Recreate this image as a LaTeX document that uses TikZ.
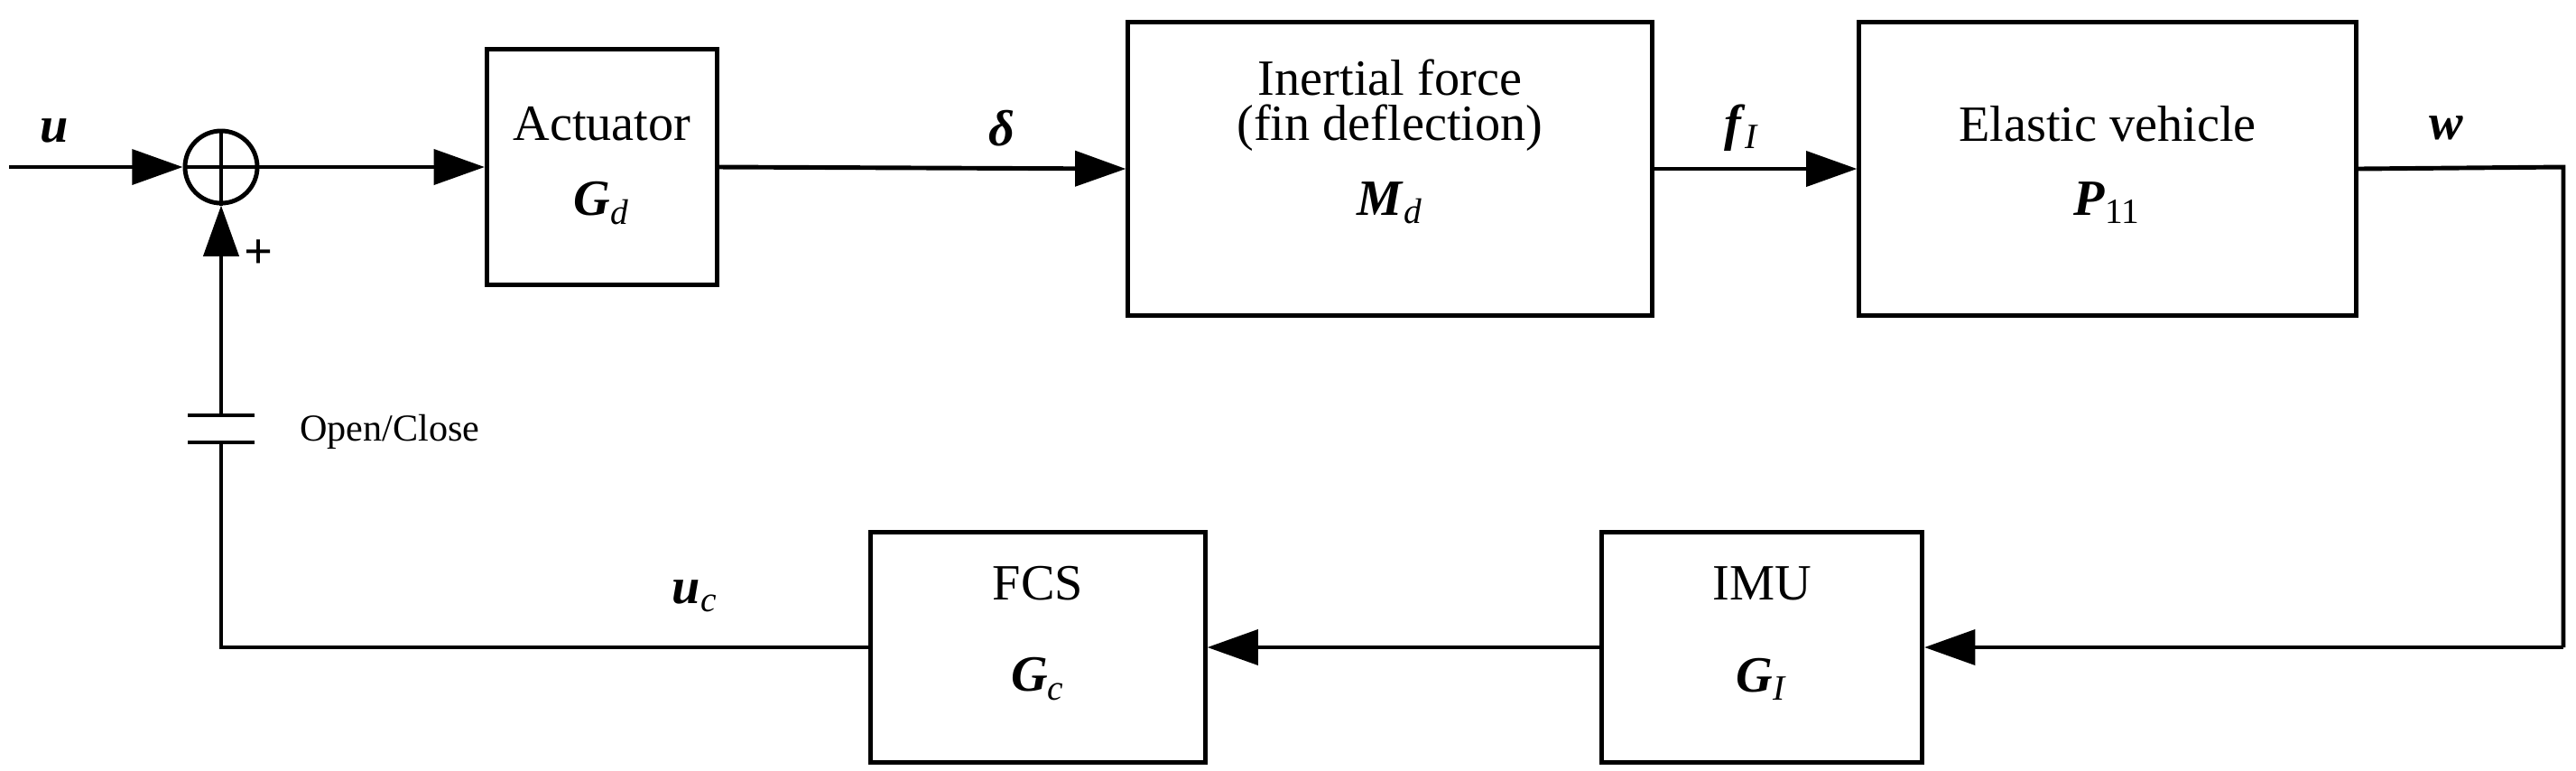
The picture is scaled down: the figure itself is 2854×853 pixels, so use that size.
\documentclass[tikz,border=0pt]{standalone}
\usepackage{fontspec}
\setmainfont{Liberation Serif}
\usetikzlibrary{arrows.meta}
\newcommand{\bi}[1]{\textbf{\textit{#1}}}
\newcommand{\sbs}[1]{\textsubscript{\textit{#1}}}
\begin{document}
\begin{tikzpicture}[x=0.01cm,y=-0.01cm,
  blk/.style={draw,line width=1.4pt,inner sep=0pt},
  ln/.style={line width=1.4pt},
  arr/.style={ln,-{Triangle[length=16pt,width=11pt]}},
  txt/.style={font=\fontsize{16}{19}\selectfont,align=center}]
\useasboundingbox (0,0) rectangle (2854,853);
% blocks
\node[blk,minimum width=2.55cm,minimum height=2.6cm] (act) at (667,185) {};
\node[txt] at (667,137) {Actuator};
\node[txt] at (667,225) {\bi{G}\sbs{d}};
\node[blk,minimum width=5.8cm,minimum height=3.25cm] (inf) at (1540,187) {};
\node[txt] at (1540,86) {Inertial force};
\node[txt] at (1540,142) {(fin deflection)};
\node[txt] at (1540,225) {\bi{M}\sbs{d}};
\node[blk,minimum width=5.5cm,minimum height=3.25cm] (ela) at (2335,187) {};
\node[txt] at (2335,137) {Elastic vehicle};
\node[txt] at (2335,225) {\bi{P}\textsubscript{11}};
\node[blk,minimum width=3.55cm,minimum height=2.55cm] (imu) at (1952,717) {};
\node[txt] at (1952,646) {IMU};
\node[txt] at (1952,752) {\bi{G}\sbs{I}};
\node[blk,minimum width=3.7cm,minimum height=2.55cm] (fcs) at (1150,717) {};
\node[txt] at (1150,646) {FCS};
\node[txt] at (1150,752) {\bi{G}\sbs{c}};
% sum
\node[draw,circle,line width=1.4pt,minimum size=0.8cm,inner sep=0pt] (sum) at (245,185) {};
\draw[ln] (sum.north)--(sum.south) (sum.west)--(sum.east);
\coordinate (uin) at (10,185);
\draw[arr] (uin)--(sum.west);
\node[txt] at (60,145) {\bi{u}};
\draw[arr] (sum.east)--(act.west);
\draw[arr] (act.east)--(inf.west);
\node[txt] at (1110,142) {\bi{δ}};
\draw[arr] (inf.east)--(ela.west);
\node[txt] at (1930,142) {\bi{f}\sbs{I}};
\coordinate (c1) at (2840,185);
\coordinate (c2) at (2840,717);
\draw[ln] (ela.east)--(c1)--(c2);
\draw[arr] (c2)--(imu.east);
\node[txt] at (2710,142) {\bi{w}};
\draw[arr] (imu.west)--(fcs.east);
\coordinate (c3) at (245,717);
\coordinate (b1) at (245,490);
\coordinate (b2) at (245,460);
\draw[ln] (fcs.west)--(c3)--(b1);
\draw[arr] (b2)--(sum.south);
\draw[ln] (208,460)--(282,460) (208,490)--(282,490);
\node[font=\fontsize{12}{14}\selectfont,anchor=west] at (320,478) {Open/Close};
\node[txt] at (770,660) {\bi{u}\sbs{c}};
\node[font=\bfseries\fontsize{16}{19}\selectfont] at (287,282) {+};
\end{tikzpicture}
\end{document}
